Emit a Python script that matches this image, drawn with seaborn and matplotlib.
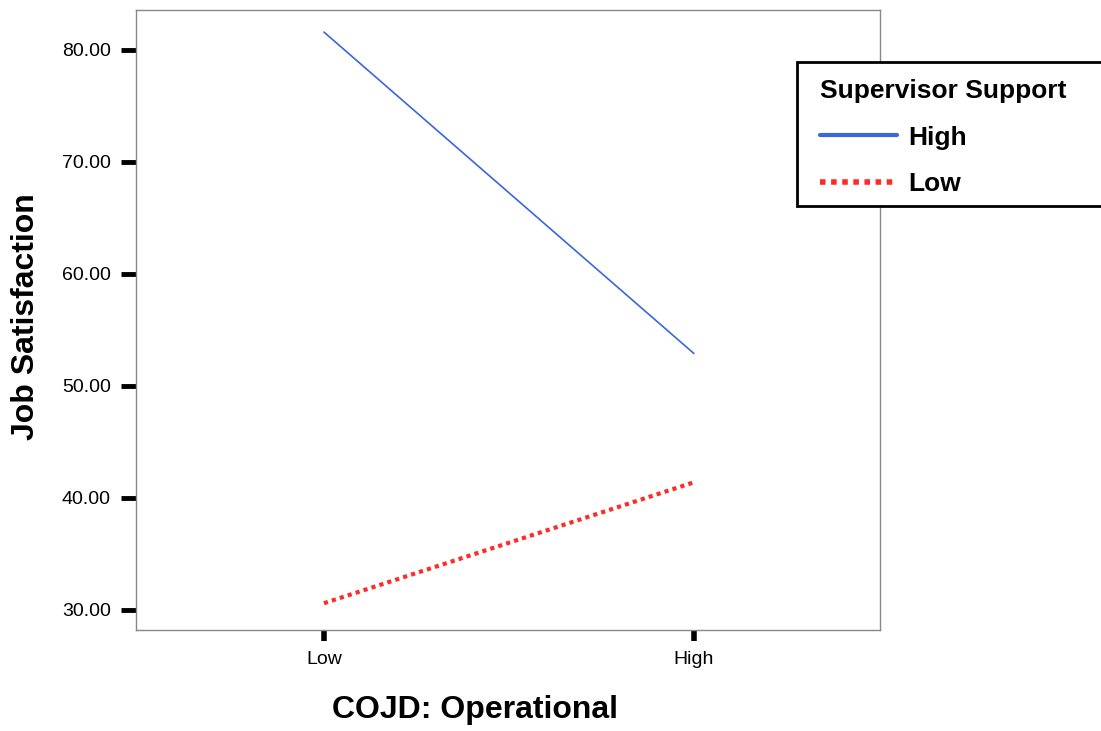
import numpy as np
import pandas as pd
import matplotlib
matplotlib.use('Agg')
import matplotlib.pyplot as plt
import seaborn as sns
from matplotlib.lines import Line2D
from matplotlib.patches import Rectangle

# data
cojd_levels = ['Low', 'High']
support_levels = ['High', 'Low']
high_support = [81.6, 52.9]
low_support = [30.6, 41.4]
y_ticks = [30, 40, 50, 60, 70, 80]

df = pd.DataFrame({
    'COJD': cojd_levels * 2,
    'Support': [support_levels[0]] * 2 + [support_levels[1]] * 2,
    'JobSat': high_support + low_support,
})
df['x'] = df['COJD'].map({c: i for i, c in enumerate(cojd_levels)})

sns.set_style('white')
plt.rcParams['font.family'] = ['Liberation Sans', 'DejaVu Sans']
plt.rcParams['text.color'] = 'black'

W, H = 1101, 731
fig = plt.figure(figsize=(W / 100, H / 100), dpi=100)
ax = fig.add_axes([136 / W, 1 - 630 / H, (880 - 136) / W, (630 - 10) / H])

sns.lineplot(data=df, x='x', y='JobSat', hue='Support', style='Support',
             palette={'High': '#3a66e0', 'Low': '#ff2a2a'},
             dashes={'High': '', 'Low': (1, 1)},
             hue_order=support_levels, style_order=support_levels,
             ax=ax, legend=False)
lines = ax.get_lines()
lines[0].set_linewidth(1.2)
lines[1].set_linewidth(3.0)

ax.set_xlim(-0.508, 1.503)
ax.set_ylim(28.21, 83.57)
ax.set_xticks(range(len(cojd_levels)))
ax.set_xticklabels(cojd_levels, fontsize=14)
ax.set_yticks(y_ticks)
ax.set_yticklabels([f'{v:.2f}' for v in y_ticks], fontsize=14)
ax.tick_params(axis='x', bottom=True, direction='out', length=8, width=4,
               color='black', labelcolor='black', pad=7)
ax.tick_params(axis='y', left=True, direction='out', length=11, width=3.5,
               color='black', labelcolor='black', pad=7)
for s in ax.spines.values():
    s.set_color('#888888')
    s.set_linewidth(1)

ax.set_xlabel('COJD: Operational', fontsize=23, fontweight='bold', color='black')
ax.xaxis.label.set_va('center')
ax.xaxis.set_label_coords((475 - 136) / 744, -(710 - 630) / 620)
ax.set_ylabel('Job Satisfaction', fontsize=23, fontweight='bold', color='black')
ax.yaxis.label.set_va('center')
ax.yaxis.set_label_coords(-(136 - 26) / 744, (630 - 317) / 620)

# legend box running off the right edge, as in the original
fig.patches.append(Rectangle((797 / W, 1 - 206 / H), (1110 - 797) / W, 144 / H,
                             transform=fig.transFigure, facecolor='white',
                             edgecolor='black', linewidth=2, zorder=5))
handles = [Line2D([], [], color='#3a66e0', lw=3),
           Line2D([], [], color='#ff2a2a', lw=4, ls=(0, (1, 1)))]
leg = fig.legend(handles, support_levels, title='Supervisor Support',
                 loc='upper left', bbox_to_anchor=(799 / W, 1 - 58 / H),
                 frameon=False, handlelength=2.9, handletextpad=0.45,
                 prop={'weight': 'bold', 'size': 19}, borderpad=0.3,
                 labelspacing=0.85)
leg.get_title().set_fontweight('bold')
leg.get_title().set_fontsize(19)
leg._legend_box.align = 'left'
leg.set_zorder(6)

fig.savefig('out.png', dpi=100)
